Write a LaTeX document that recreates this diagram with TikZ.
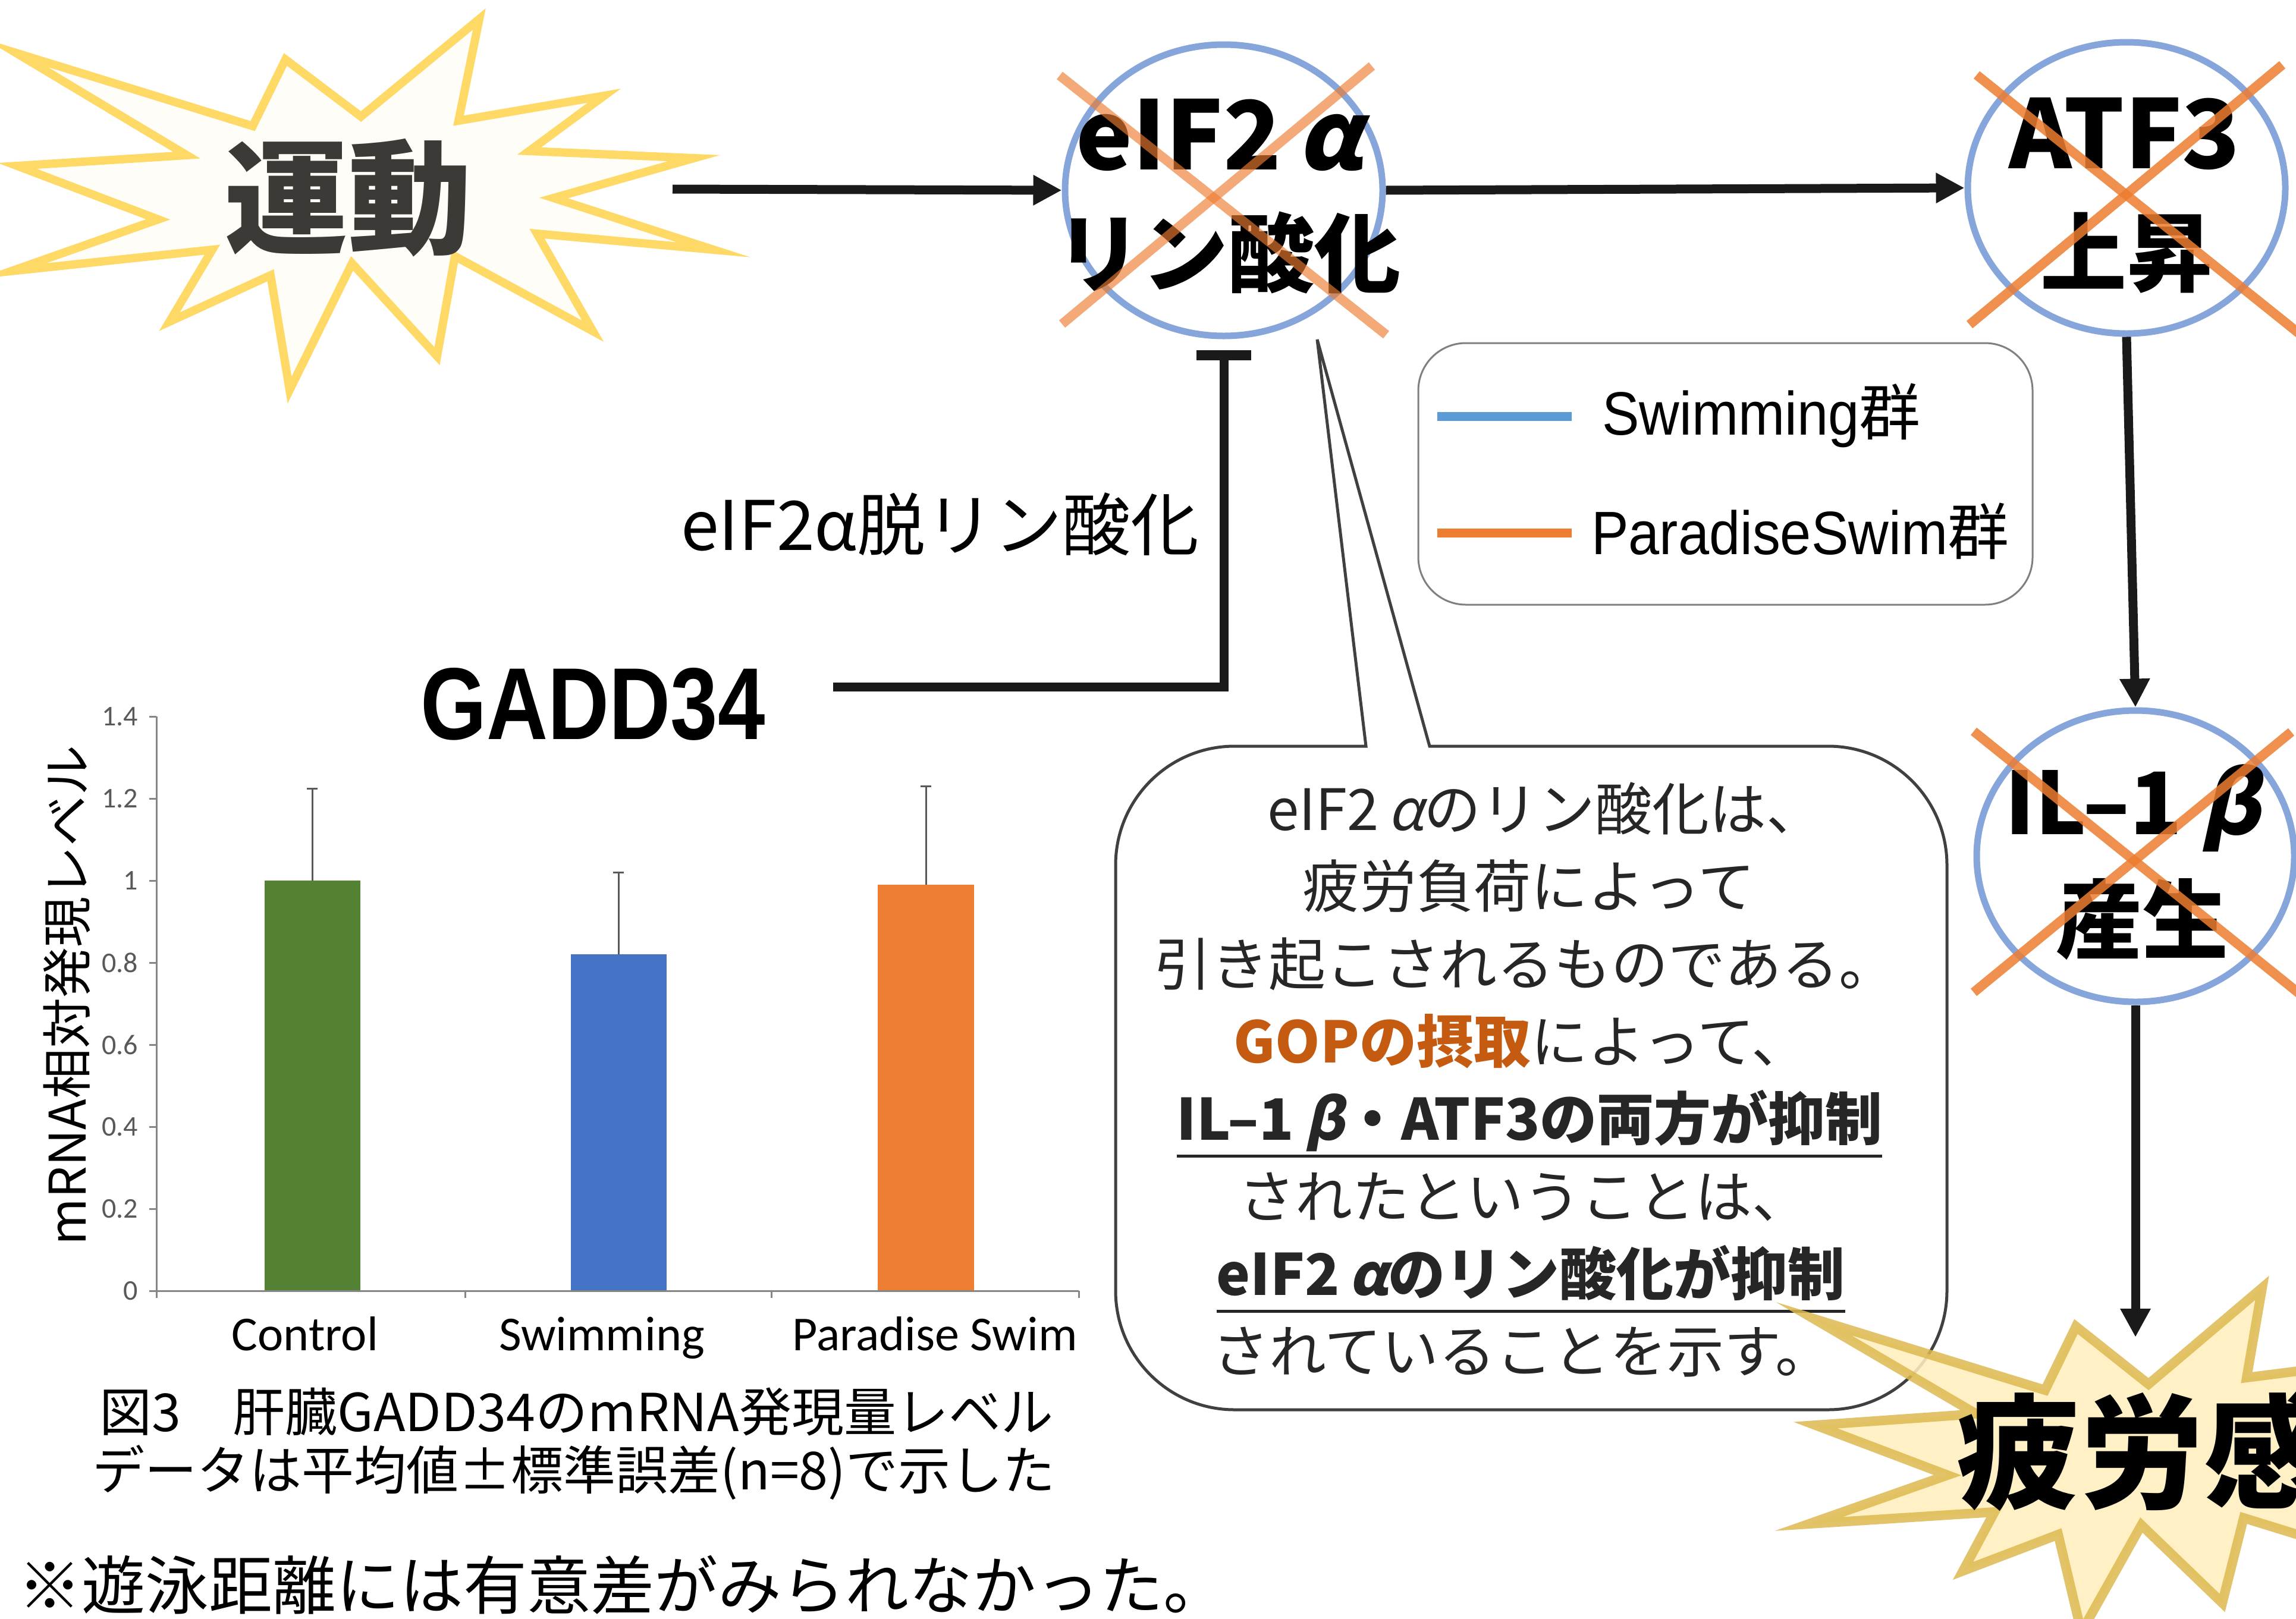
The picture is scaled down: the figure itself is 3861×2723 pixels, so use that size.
\documentclass[tikz,border=0pt]{standalone}
\usepackage{fontspec}
\usetikzlibrary{shapes.geometric,arrows.meta,calc}
\setmainfont{Noto Sans CJK JP}
\newfontfamily\jp{Noto Sans CJK JP}
\newfontfamily\lib{Liberation Sans}
\newfontfamily\calib{Carlito}
\newcommand\fs[1]{\fontsize{#1}{#1}\selectfont}
\newcommand\slgr[1]{{\addfontfeature{FakeSlant=0.22}#1}}
\newcommand\myul[1]{\setbox0\hbox{#1}\rlap{\rule[-30pt]{\wd0}{5pt}}\box0}
\definecolor{ellb}{HTML}{86A5DA}
\definecolor{xor}{HTML}{ED7D31}
\definecolor{arrc}{HTML}{1A1A1A}
\definecolor{starY}{HTML}{FFD966}
\definecolor{starF}{HTML}{FFFDF7}
\definecolor{fatF}{HTML}{FFEEBF}
\definecolor{fatD}{HTML}{DDB94F}
\definecolor{gopc}{HTML}{C55A11}
\definecolor{txt}{HTML}{262626}
\definecolor{axisg}{HTML}{868686}
\definecolor{tickg}{HTML}{595959}
\definecolor{barG}{HTML}{548235}
\definecolor{barB}{HTML}{4472C4}
\definecolor{barO}{HTML}{ED7D31}
\definecolor{legB}{HTML}{5B9BD5}
\definecolor{legbox}{HTML}{7F7F7F}
\definecolor{calloutc}{HTML}{404040}
\definecolor{undoc}{HTML}{3B3A36}
\tikzset{
  arr/.style={draw=arrc, line width=15pt, -{Triangle[length=48pt,width=48pt]}},
  blk/.style={draw=arrc, line width=15pt},
  ell/.style={ellipse, draw=ellb, line width=11pt, minimum width=534pt, minimum height=490pt, inner sep=0pt},
  crossL/.style={draw=xor, line width=16pt, draw opacity=0.65},
  cross/.style={draw=xor, line width=16pt, draw opacity=0.85},
  lbl/.style={inner sep=0pt, anchor=base},
  elltxt/.style={lbl, font=\jp\bfseries\fs{145}, text=black},
  cl/.style={lbl, font=\jp\fs{96}, text=txt},
  burst/.style={draw=starY, line width=14pt, fill=starF, line join=miter},
  fatburst/.style={draw=fatD, line width=16pt, fill=fatF, fill opacity=0.88, draw opacity=0.85},
  callout/.style={draw=calloutc, line width=5pt, fill=white},
  axisl/.style={draw=axisg, line width=3pt},
  errl/.style={draw=tickg, line width=3pt},
  tickl/.style={inner sep=0pt, anchor=east, font=\calib\fs{48}, text=tickg},
  catl/.style={lbl, font=\calib\fs{82}, text=black},
}
\begin{document}
\begin{tikzpicture}[x=1pt,y=-1pt]
\useasboundingbox (0,0) rectangle (3861,2723);
\clip (0,0) rectangle (3861,2723);
\fill[white] (0,0) rectangle (3861,2723);

% ---- exercise burst ----
\draw[burst] (27,89) -- (425,212) -- (480,100) -- (607,196) -- (806,32) -- (771,203) -- (1016,161) -- (890,254) -- (1167,266) -- (931,333) -- (1200,420) -- (903,393) -- (997,557) -- (765,431) -- (735,599) -- (592,443) -- (487,656) -- (455,463) -- (285,541) -- (357,420) -- (19,456) -- (266,369) -- (29,279) -- (314,261) -- cycle;
\node[lbl, font=\jp\bfseries\fs{208}, text=undoc] (undo) at (585,410) {運動};
\coordinate (ex) at (1131,318);

% ---- ellipses ----
\node[ell] (eif) at (2058,320) {};
\node[ell] (atf) at (3576,316) {};
\node[ell] (il) at (3591,1440) {};
\coordinate (ft) at (3591,2249);

\draw[arr] (ex) -- (eif.west);
\draw[arr] (eif.east) -- (atf.west);
\draw[arr] (atf.south) -- (il.north);
\draw[arr] (il.south) -- (ft);

\node[elltxt, font=\jp\bfseries\fs{160}] (eifA) at (2050,285) {eIF2\,\slgr{α}};
\node[elltxt] (eifB) at (2065,480) {リン酸化};
\node[elltxt, font=\jp\bfseries\fs{160}] (atfA) at (3573,283) {ATF3};
\node[elltxt] (atfB) at (3576,479) {上昇};
\node[elltxt] (ilA) at (3586,1403) {IL–1\hspace{30pt}\slgr{β}};
\node[elltxt] (ilB) at (3602,1601) {産生};

\draw[crossL] (1782,127) -- (2331,563);
\draw[crossL] (2307,111) -- (1786,545);
\draw[cross] (3324,126) -- (3880,572);
\draw[cross] (3838,109) -- (3312,546);
\draw[cross] (3319,1230) -- (3880,1682);
\draw[cross] (3853,1231) -- (3319,1669);

% ---- GADD34 inhibition ----
\node[lbl, font=\lib\bfseries\fs{172}] (gadd) at (997,1243) {\scalebox{0.83}[1]{GADD34}};
\coordinate (g) at (1401,1155);
\coordinate (tb) at ($(eif.south)+(0,27)$);
\draw[blk] (g) -| (tb);
\draw[draw=arrc, line width=17pt] ($(tb)+(-46,0)$) -- ($(tb)+(46,0)$);
\node[lbl, font=\jp\fs{115}] (dephos) at (1581,925) {eIF2α脱リン酸化};

% ---- legend ----
\draw[draw=legbox, line width=3pt, rounded corners=80pt] (2385,577) rectangle (3418,1017);
\draw[draw=legB, line width=15pt] (2417,700) -- (2643,700);
\draw[draw=barO, line width=15pt] (2417,896) -- (2643,896);
\node[lbl, anchor=base west, font=\fs{103}] (leg1) at (2694,731) {\scalebox{0.91}[1]{\lib Swimming}{\jp 群}};
\node[lbl, anchor=base west, font=\fs{103}] (leg2) at (2676,932) {\scalebox{0.91}[1]{\lib ParadiseSwim}{\jp 群}};

% ---- callout ----
\draw[callout] (2200,1255) -- (2297,1255) -- (2215,571) -- (2404,1255) -- (2500,1255) [rounded corners=200pt] -- (3274,1255) -- (3274,2371) -- (1876,2371) -- (1876,1255) -- (2200,1255);
\node[cl] (c1) at (2599,1396) {eIF2\,\slgr{α}のリン酸化は、};
\node[cl] (c2) at (2571,1526) {疲労負荷によって};
\node[cl] (c3) at (2565,1657) {引き起こされるものである。};
\node[cl] (c4) at (2558,1787) {{\color{gopc}\bfseries GOPの摂取}によって、};
\node[cl] (c5) at (2572,1917) {\myul{\bfseries IL–1\hspace{18pt}\slgr{β}・ATF3の両方が抑制}};
\node[cl] (c6) at (2562,2048) {されたということは、};
\node[cl] (c7) at (2574,2178) {\myul{\bfseries eIF2\,\slgr{α}のリン酸化が抑制}};
\node[cl] (c8) at (2560,2308) {されていることを示す。};

% ---- chart ----
\fill[barG] (445,1481) rectangle (606,2171);
\fill[barB] (960,1605) rectangle (1121,2171);
\fill[barO] (1476,1488) rectangle (1638,2171);
\draw[errl] (525,1481) -- (525,1326) (516,1326) -- (534,1326);
\draw[errl] (1040,1605) -- (1040,1467) (1031,1467) -- (1049,1467);
\draw[errl] (1557,1488) -- (1557,1322) (1548,1322) -- (1566,1322);
\draw[axisl] (263,1205) -- (263,2171) -- (1814,2171);
\foreach \i/\t in {0/0,1/0.2,2/0.4,3/0.6,4/0.8,5/1,6/1.2,7/1.4} {
  \pgfmathsetmacro\yy{2171-\i*138}
  \draw[axisl] (251,\yy) -- (263,\yy);
  \node[tickl] (tk\i) at (232,\yy) {\t};
}
\foreach \xx in {263,782,1297,1814} {
  \draw[axisl] (\xx,2171) -- (\xx,2183);
}
\node[catl] (cat1) at (513,2271) {Control};
\node[catl] (cat2) at (1012,2271) {Swimming};
\node[catl] (cat3) at (1572,2271) {Paradise Swim};
\node[inner sep=0pt, rotate=90, font=\jp\fs{85}] (ytitle) at (112,1674) {mRNA相対発現レベル};
\node[lbl, font=\jp\fs{88}] (cap1) at (969,2407) {図3　肝臓GADD34のmRNA発現量レベル};
\node[lbl, font=\jp\fs{88}] (cap2) at (965,2505) {データは平均値±標準誤差(n=8)で示した};
\node[lbl, anchor=base west, font=\jp\fs{107}] (note) at (30,2706) {※遊泳距離には有意差がみられなかった。};

% ---- fatigue burst ----
\draw[fatburst] (3050,2218) -- (3439,2338) -- (3491,2231) -- (3613,2328) -- (3804,2166) -- (3778,2317) -- (3990,2290) -- (3990,2620) -- (3773,2553) -- (3737,2696) -- (3601,2565) -- (3500,2745) -- (3461,2581) -- (3301,2642) -- (3354,2543) -- (3042,2563) -- (3275,2481) -- (3053,2397) -- (3323,2378) -- cycle;
\node[lbl, anchor=base west, font=\jp\bfseries\fs{208}] (fat) at (3290,2520) {疲労感};
\end{tikzpicture}
\end{document}
